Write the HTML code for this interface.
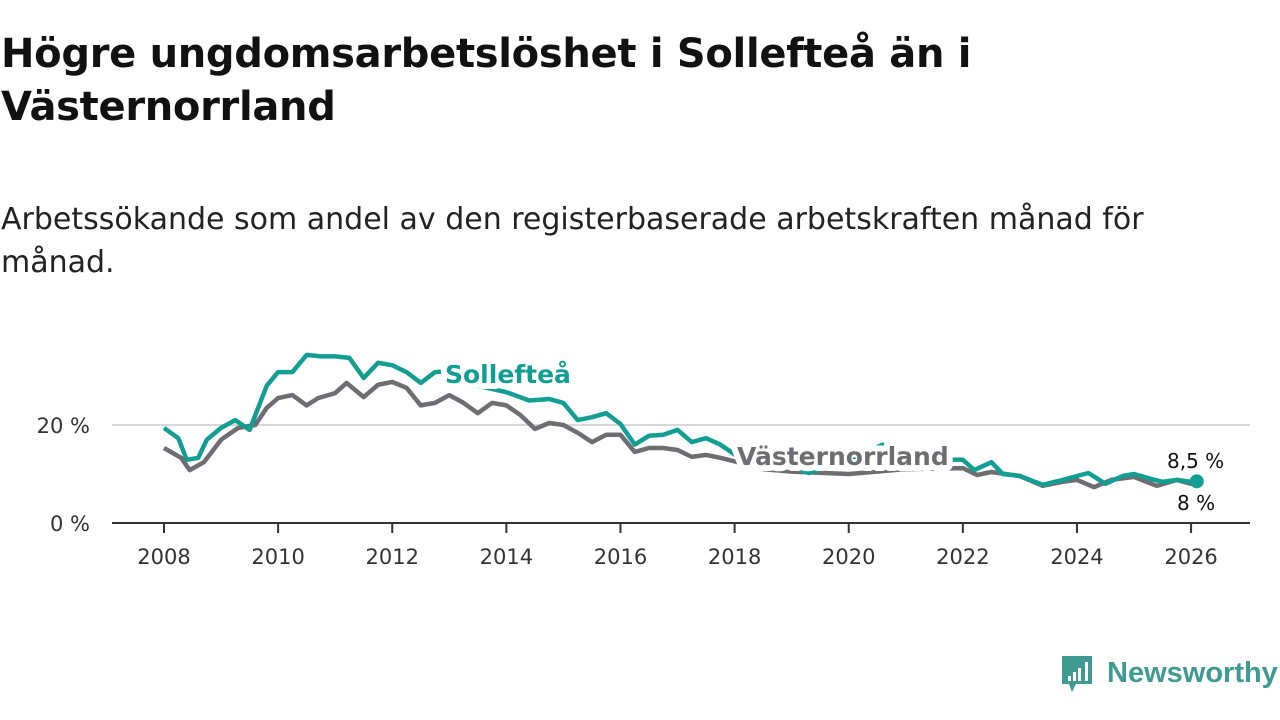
<!DOCTYPE html>
<html><head><meta charset="utf-8"><style>
body{margin:0;width:1280px;height:720px;background:#fff;overflow:hidden;font-family:"DejaVu Sans","Liberation Sans",sans-serif;}
h1{position:absolute;left:1px;top:28px;margin:0;font-size:40px;line-height:53px;font-weight:bold;color:#111;width:1100px;letter-spacing:-0.3px;}
.sub{position:absolute;left:1px;top:198px;margin:0;font-size:30px;line-height:43px;color:#222;width:1180px;}
svg{position:absolute;left:0;top:0;}
</style></head><body>
<h1>Högre ungdomsarbetslöshet i Sollefteå än i Västernorrland</h1>
<p class="sub">Arbetssökande som andel av den registerbaserade arbetskraften månad för månad.</p>
<svg id="chart" width="1280" height="720"></svg>
<script>
const solYears=[2008,2008.25,2008.4,2008.6,2008.75,2009,2009.25,2009.5,2009.6,2009.8,2010,2010.25,2010.5,2010.75,2011,2011.25,2011.5,2011.75,2012,2012.25,2012.5,2012.75,2013,2013.5,2014,2014.4,2014.75,2015,2015.25,2015.5,2015.75,2016,2016.25,2016.5,2016.75,2017,2017.25,2017.5,2017.75,2018,2018.5,2019,2019.3,2020,2020.6,2021,2021.5,2022,2022.2,2022.5,2022.7,2023,2023.4,2023.75,2024,2024.2,2024.5,2024.8,2025,2025.3,2025.5,2025.75,2026,2026.1];
const solValues=[19.4,17.3,12.9,13.3,17,19.4,21,19,22,28,30.8,30.8,34.3,34,34,33.7,29.6,32.7,32.2,30.8,28.6,30.8,31,28,26.7,25,25.3,24.5,21,21.6,22.4,20.2,16,17.8,18,19,16.5,17.3,16,14,12.5,11.5,10.2,13,16,14,13,12.9,10.8,12.4,10,9.6,7.8,8.8,9.6,10.2,8,9.6,10,9,8.4,8.8,8.4,8.5];
const vnYears=[2008,2008.3,2008.45,2008.7,2009,2009.3,2009.6,2009.8,2010,2010.25,2010.5,2010.7,2011,2011.2,2011.5,2011.75,2012,2012.25,2012.5,2012.75,2013,2013.25,2013.5,2013.75,2014,2014.25,2014.5,2014.75,2015,2015.25,2015.5,2015.75,2016,2016.25,2016.5,2016.75,2017,2017.25,2017.5,2017.75,2018.2,2018.5,2019,2020,2021,2022,2022.25,2022.5,2023,2023.4,2023.75,2024,2024.3,2024.6,2025,2025.4,2025.75,2026,2026.1];
const vnValues=[15.3,13.3,10.8,12.4,17,19.4,20,23.5,25.5,26.1,24,25.5,26.5,28.6,25.7,28.2,28.8,27.6,24,24.5,26.1,24.5,22.4,24.5,24,22,19.2,20.4,20,18.4,16.5,18,18,14.5,15.3,15.3,14.9,13.5,13.9,13.3,12,11,10.5,10,11,11.2,9.8,10.4,9.6,7.6,8.4,8.8,7.3,8.8,9.4,7.6,8.8,8,8];
const xTicks=[2008,2010,2012,2014,2016,2018,2020,2022,2024,2026];
const yTicks=[0,20];
const yTickLabels=["0 %","20 %"];

const svg=document.getElementById('chart');
const NS='http://www.w3.org/2000/svg';
const X=y=>164+(y-2008)*57.06;
const Y=v=>523-v*4.9;
function mk(t,a){const e=document.createElementNS(NS,t);for(const k in a)e.setAttribute(k,a[k]);svg.appendChild(e);return e;}
yTicks.forEach((t,i)=>{
  const g=mk('line',{x1:112,x2:1250,y1:Y(t),y2:Y(t),stroke:t===0?'#333':'#d8d8d8','stroke-width':2});
  
  
  const l=mk('text',{x:90,y:Y(t)+8,'text-anchor':'end','font-size':21,fill:'#333'});
  l.textContent=yTickLabels[i];
  
  
});
xTicks.forEach(t=>{
  const tk=mk('line',{x1:X(t),x2:X(t),y1:523,y2:533,stroke:'#333','stroke-width':2});
  
  
  const l=mk('text',{x:X(t),y:564,'text-anchor':'middle','font-size':21,fill:'#333'});
  l.textContent=t;
  
  
});
function line(xs,vs,c,name){
  const p=mk('path',{d:xs.map((x,i)=>(i?'L':'M')+X(x).toFixed(1)+','+Y(vs[i]).toFixed(1)).join(''),fill:'none',stroke:c,'stroke-width':4.5,'stroke-linejoin':'round'});
  
  
}
line(vnYears,vnValues,'#6d6d72','vasternorrland-line');
line(solYears,solValues,'#139e93','solleftea-line');
const dot=mk('circle',{cx:X(solYears[solYears.length-1]),cy:Y(solValues[solValues.length-1]),r:7,fill:'#139e93'});


function lab(txt,x,y,c,sz,bold,name){
  const t=mk('text',{x:x,y:y,fill:c,'font-size':sz,'font-weight':bold?'bold':'normal',stroke:'#fff','stroke-width':bold?12:6,'paint-order':'stroke','stroke-linejoin':'round'});
  t.textContent=txt;
  
  
}
lab('Sollefteå',445,383,'#139e93',25,true,'solleftea-label');
lab('Västernorrland',737,465,'#6d6d72',25,true,'vasternorrland-label');
lab('8,5 %',1167,468,'#111',20,false,'solleftea-value-label');
lab('8 %',1177,510,'#111',20,false,'vasternorrland-value-label');
const lg=mk('g',{});


const b=document.createElementNS(NS,'path');
b.setAttribute('d','M1062,656h30v28h-16l-4,8l-3,-8h-7z');b.setAttribute('fill','#3f9a91');lg.appendChild(b);
[[1068,676,3],[1073,672,3],[1078,668,3],[1085,662,3]].forEach(r=>{const e=document.createElementNS(NS,'rect');e.setAttribute('x',r[0]);e.setAttribute('y',r[1]);e.setAttribute('width',r[2]);e.setAttribute('height',681-r[1]);e.setAttribute('fill','#fff');lg.appendChild(e);});
const lt=document.createElementNS(NS,'text');
lt.setAttribute('x',1107);lt.setAttribute('y',682);lt.setAttribute('font-size',29);lt.setAttribute('fill','#3f9a91');lt.setAttribute('font-weight','bold');lt.setAttribute('font-family','Liberation Sans, sans-serif');
lt.textContent='Newsworthy';lg.appendChild(lt);
</script>
</body></html>
